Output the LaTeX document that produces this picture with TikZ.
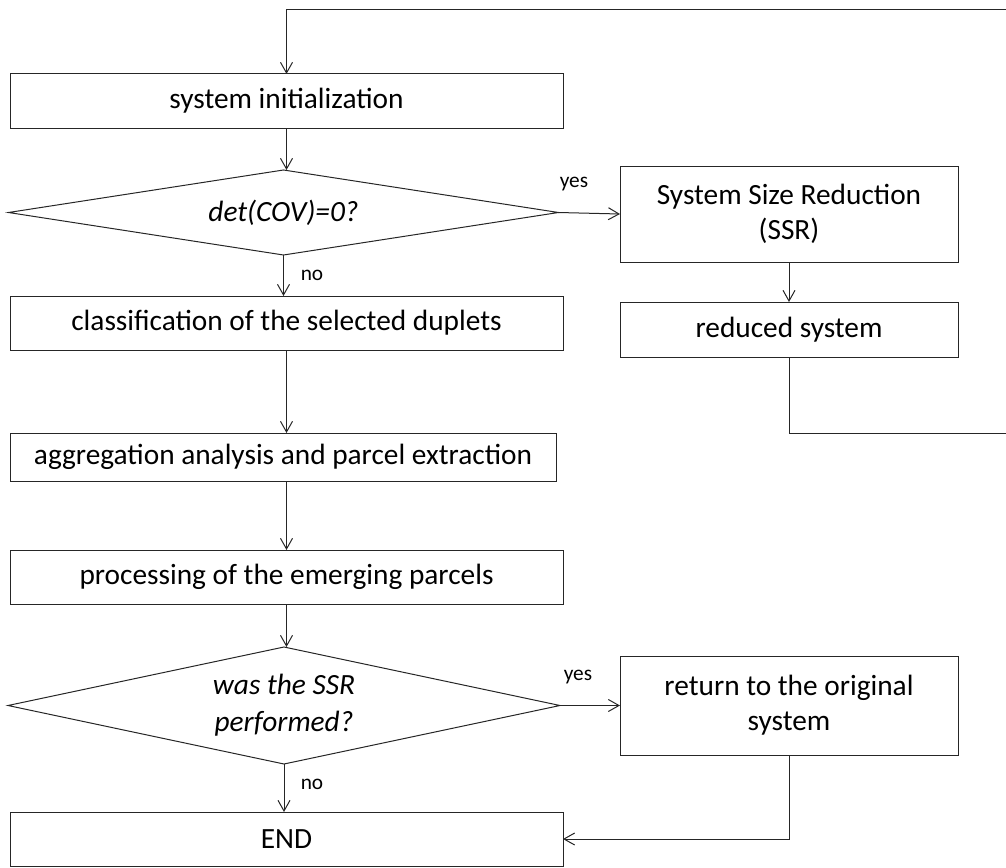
\documentclass[tikz,border=0pt]{standalone}
\usepackage{fontspec}
\setmainfont{Carlito}
\usetikzlibrary{shapes.geometric,arrows.meta}
\newcommand{\linecolor}{black!85}
\tikzstyle{every node}=[font=\fontsize{22}{26}\selectfont, inner sep=0, outer sep=0]
\tikzstyle{line}=[draw=\linecolor, line width=.75pt]
\tikzstyle{box}=[line, rectangle, align=center]
\tikzstyle{test}=[line, diamond, aspect=4.7, align=center, font=\fontsize{22}{28}\selectfont\itshape]
\tikzstyle{tag}=[font=\fontsize{16}{18}\selectfont]

\begin{document}
\begin{tikzpicture}[x=.75pt, y=-.75pt, >={Straight Barb[length=8pt,width=9pt]}]
    \useasboundingbox (0, 0) rectangle (1006, 867);
    \node[box, minimum width=414.75pt, minimum height=40.5pt] (init) at (286.5, 101) {system initialization};
    \node[test, minimum width=412.5pt, minimum height=63.75pt] (cov) at (283.5, 212.5) {det(COV)=0?};
    \node[box, minimum width=253.5pt, minimum height=72pt] (ssr) at (789, 214) {System Size Reduction\\(SSR)};
    \node[box, minimum width=253.5pt, minimum height=41.25pt] (red) at (789, 329.5) {reduced system};
    \node[box, minimum width=414.75pt, minimum height=40.5pt] (clas) at (286.5, 323) {classification of the selected duplets};
    \node[box, minimum width=409.5pt, minimum height=36pt] (aggr) at (283, 457) {aggregation analysis and parcel extraction};
    \node[box, minimum width=414.75pt, minimum height=40.5pt] (proc) at (286.5, 577) {processing of the emerging parcels};
    \node[test, minimum width=414pt, minimum height=87.75pt] (done) at (284, 705.5) {was the SSR\\performed?};
    \node[box, minimum width=253.5pt, minimum height=74.25pt] (ret) at (789, 705.5) {return to the original\\system};
    \node[box, minimum width=414.75pt, minimum height=40.5pt] (end) at (286.5, 839) {END};
    \node[tag] (yes1) at (574, 184) {yes};
    \node[tag] (no1) at (312, 275) {no};
    \node[tag] (yes2) at (578, 677) {yes};
    \node[tag] (no2) at (312, 784) {no};
    \coordinate (rtop) at (1012, 10);
    \coordinate (rbot) at (1012, 433);
    \draw[line, ->] (init.south) -- (init.south |- cov.north);
    \draw[line, ->] (cov.east) -- (ssr.west);
    \draw[line, ->] (ssr.south) -- (red.north);
    \draw[line, ->] (red.south) |- (rbot) -- (rtop) -| (init.north);
    \draw[line, ->] (cov.south) -- (cov.south |- clas.north);
    \draw[line, ->] (clas.south) -- (clas.south |- aggr.north);
    \draw[line, ->] (clas.south |- aggr.south) -- (clas.south |- proc.north);
    \draw[line, ->] (proc.south) -- (proc.south |- done.north);
    \draw[line, ->] (done.east) -- (done.east -| ret.west);
    \draw[line, ->] (done.south) -- (done.south |- end.north);
    \draw[line, ->] (ret.south) |- (end.east);
\end{tikzpicture}
\end{document}
